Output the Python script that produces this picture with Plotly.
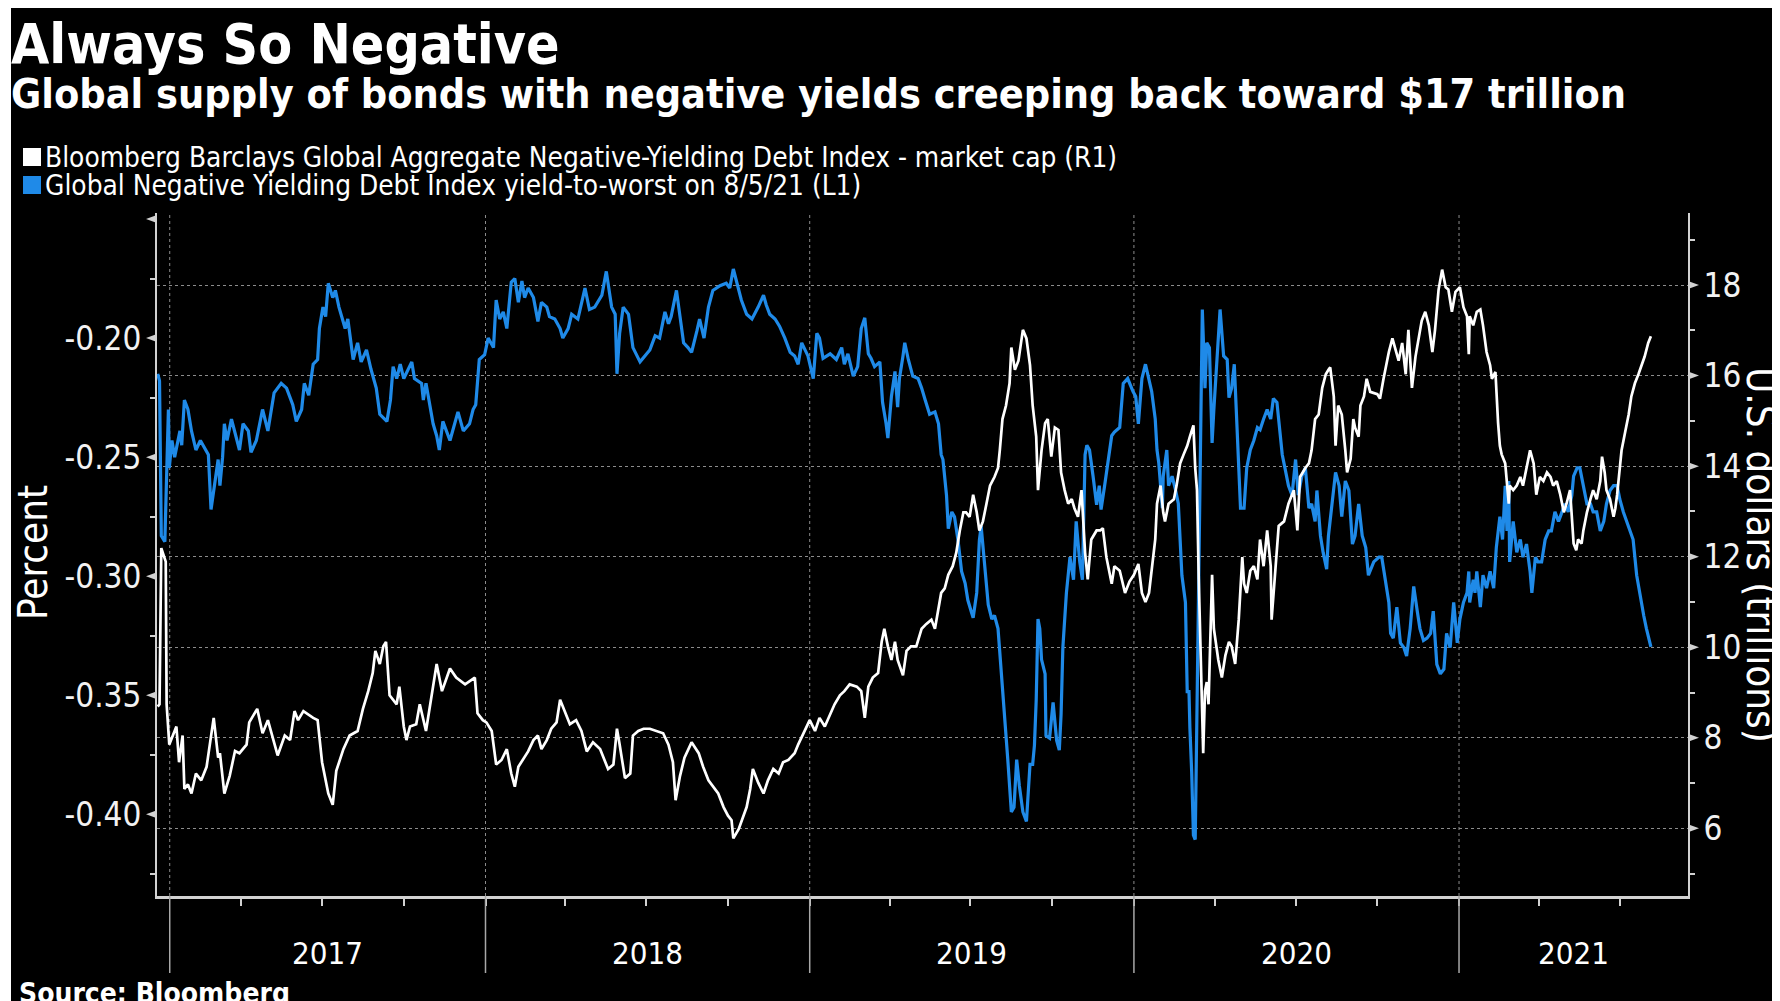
import pandas as pd
import plotly.graph_objects as go

# ---------------- data ----------------
# Market cap of negative-yielding debt, US$ trillions (right axis). x = day offset within year
cap_2017_days = [-4, -2, 0, 3, 5, 6, 9, 13, 17, 20, 24, 26, 30, 34, 39, 45, 51, 59, 64, 66, 71, 77, 83, 88, 96, 99, 108, 114, 120, 131, 139, 145, 150, 154, 160, 171, 176, 181, 188, 193, 197, 205, 212, 221, 227, 233, 238, 241, 246, 250, 253, 257, 265, 268, 273, 276, 280, 287, 291, 298, 304, 310, 316, 325, 332, 342, 353, 356, 362]
cap_2017 = [8.69, 8.74, 12.19, 11.99, 11.89, 8.74, 7.85, 8.05, 8.25, 7.46, 8.05, 6.87, 6.97, 6.77, 7.21, 7.06, 7.36, 8.44, 7.56, 7.66, 6.77, 7.16, 7.71, 7.66, 7.85, 8.34, 8.64, 8.10, 8.39, 7.61, 8.05, 7.95, 8.59, 8.39, 8.59, 8.44, 8.39, 7.46, 6.77, 6.52, 7.27, 7.75, 8.05, 8.15, 8.64, 9.03, 9.43, 9.92, 9.63, 10.02, 10.12, 8.94, 8.74, 9.13, 8.25, 7.95, 8.25, 8.30, 8.74, 8.15, 8.94, 9.63, 9.03, 9.53, 9.33, 9.18, 9.33, 8.54, 8.39]
cap_2018_days = [1, 7, 12, 18, 24, 29, 33, 37, 42, 48, 54, 59, 63, 69, 74, 80, 84, 89, 95, 102, 108, 114, 121, 129, 134, 138, 144, 148, 151, 157, 163, 166, 172, 178, 185, 193, 200, 206, 211, 214, 219, 224, 232, 240, 245, 251, 256, 262, 268, 273, 277, 279, 285, 290, 294, 298, 301, 307, 313, 318, 324, 330, 335, 341, 348, 352, 358, 363]
cap_2018 = [8.34, 8.15, 7.41, 7.51, 7.75, 7.21, 6.92, 7.36, 7.51, 7.70, 7.95, 8.05, 7.75, 7.95, 8.20, 8.34, 8.84, 8.59, 8.30, 8.39, 8.15, 7.70, 7.90, 7.75, 7.51, 7.31, 7.41, 8.20, 7.85, 7.11, 7.21, 8.05, 8.15, 8.20, 8.20, 8.15, 8.10, 7.85, 7.46, 6.62, 7.16, 7.56, 7.90, 7.66, 7.36, 7.06, 6.92, 6.77, 6.47, 6.28, 6.18, 5.78, 5.98, 6.28, 6.47, 6.87, 7.31, 7.01, 6.77, 7.06, 7.31, 7.21, 7.46, 7.51, 7.66, 7.85, 8.10, 8.34]
cap_2019_days = [0, 6, 11, 17, 23, 28, 34, 39, 45, 53, 58, 62, 66, 71, 77, 81, 84, 88, 92, 96, 99, 105, 109, 114, 120, 126, 131, 137, 141, 145, 148, 152, 156, 161, 165, 169, 173, 176, 180, 184, 188, 191, 195, 199, 203, 208, 212, 214, 217, 221, 225, 227, 231, 235, 240, 244, 248, 251, 255, 257, 261, 265, 268, 272, 276, 280, 283, 287, 291, 295, 298, 302, 306, 310, 313, 317, 323, 327, 330, 334, 340, 343, 349, 355, 360]
cap_2019 = [8.39, 8.15, 8.44, 8.25, 8.54, 8.74, 8.94, 9.03, 9.18, 9.13, 9.03, 8.44, 9.13, 9.33, 9.43, 10.12, 10.41, 10.02, 9.72, 10.12, 9.72, 9.38, 9.92, 10.02, 10.02, 10.41, 10.51, 10.61, 10.41, 10.91, 11.20, 11.30, 11.60, 11.79, 12.09, 12.58, 12.98, 12.98, 12.88, 13.37, 12.98, 12.58, 12.78, 13.17, 13.57, 13.76, 13.96, 14.35, 15.04, 15.34, 15.83, 16.62, 16.13, 16.33, 17.01, 16.82, 16.23, 15.34, 14.65, 13.47, 14.35, 14.95, 15.04, 14.21, 14.85, 14.80, 13.86, 13.47, 13.17, 13.27, 13.07, 12.88, 13.47, 12.09, 11.50, 12.38, 12.58, 12.58, 12.63, 11.99, 11.40, 11.79, 11.69, 11.20, 11.45]
cap_2020_days = [0, 5, 9, 13, 17, 20, 24, 26, 30, 33, 35, 39, 45, 48, 52, 56, 60, 63, 67, 69, 71, 73, 75, 77, 78, 80, 82, 84, 86, 88, 90, 92, 95, 99, 103, 107, 110, 114, 118, 122, 124, 127, 131, 135, 139, 142, 146, 150, 154, 155, 159, 163, 169, 174, 180, 184, 187, 193, 197, 200, 204, 208, 212, 216, 219, 221, 225, 227, 230, 234, 238, 240, 244, 247, 249, 253, 255, 259, 262, 266, 274, 277, 281, 287, 291, 294, 298, 302, 306, 309, 313, 317, 321, 324, 328, 332, 336, 339, 343, 347, 351, 354, 358, 362]
cap_2020 = [11.60, 11.84, 11.20, 11.00, 11.20, 11.69, 12.38, 13.17, 13.57, 12.98, 12.78, 13.17, 13.27, 13.57, 14.06, 14.26, 14.45, 14.65, 14.90, 13.96, 13.47, 11.50, 10.02, 8.54, 7.66, 9.03, 9.23, 8.74, 10.32, 11.60, 10.41, 10.12, 9.72, 9.33, 9.82, 10.12, 10.02, 9.63, 10.61, 11.99, 11.40, 11.20, 11.69, 11.79, 11.50, 12.38, 11.79, 12.58, 11.79, 10.61, 11.60, 12.68, 12.78, 13.17, 13.47, 12.58, 13.76, 13.96, 14.06, 14.35, 15.04, 15.14, 15.73, 16.03, 16.13, 16.18, 15.54, 14.45, 15.34, 15.14, 14.35, 13.86, 14.16, 15.04, 14.85, 14.65, 15.34, 15.54, 15.93, 15.64, 15.59, 15.49, 15.93, 16.52, 16.82, 16.62, 16.33, 16.72, 16.03, 17.01, 15.73, 16.42, 16.92, 17.21, 17.41, 17.11, 16.52, 17.01, 17.90, 18.34, 17.95, 17.90, 17.41, 17.85]
cap_2021_days = [1, 5, 9, 11, 12, 16, 20, 24, 27, 31, 35, 37, 41, 42, 44, 46, 48, 52, 54, 56, 57, 61, 65, 69, 72, 76, 80, 84, 87, 91, 95, 99, 103, 106, 110, 114, 118, 121, 125, 129, 132, 134, 138, 140, 144, 148, 151, 155, 159, 161, 163, 164, 166, 170, 174, 176, 178, 181, 183, 187, 191, 194, 198, 202, 206, 209, 213, 216]
cap_2021 = [17.95, 17.51, 17.31, 16.47, 17.31, 17.11, 17.41, 17.46, 17.11, 16.52, 16.23, 15.93, 16.08, 15.64, 14.95, 14.45, 14.26, 14.06, 13.57, 13.17, 13.57, 13.47, 13.57, 13.76, 13.57, 13.96, 14.35, 14.06, 13.37, 13.76, 13.67, 13.86, 13.76, 13.57, 13.67, 13.37, 12.98, 13.17, 13.47, 12.29, 12.14, 12.38, 12.29, 12.58, 12.98, 13.27, 13.47, 13.27, 13.67, 14.21, 13.96, 13.86, 13.47, 13.27, 12.88, 13.07, 13.37, 13.96, 14.35, 14.75, 15.14, 15.54, 15.83, 16.03, 16.23, 16.42, 16.72, 16.87]

# Yield-to-worst, percent (left axis). x = day offset within year
ytw_2017_days = [-4, -2, 0, 4, 8, 9, 12, 15, 21, 23, 26, 30, 34, 39, 44, 53, 56, 60, 64, 66, 69, 71, 74, 79, 88, 92, 98, 101, 107, 114, 120, 127, 135, 141, 148, 152, 158, 161, 166, 171, 176, 178, 182, 185, 188, 193, 196, 200, 204, 207, 210, 214, 216, 221, 225, 231, 236, 242, 246, 254, 258, 261, 265, 269, 273, 282, 285, 293, 295, 298, 302, 306, 310, 313, 317, 325, 334, 340, 347, 351, 354, 358, 364]
ytw_2017 = [-0.215, -0.218, -0.283, -0.2855, -0.230, -0.2545, -0.243, -0.250, -0.239, -0.245, -0.226, -0.230, -0.239, -0.247, -0.243, -0.249, -0.272, -0.262, -0.251, -0.262, -0.250, -0.236, -0.243, -0.234, -0.247, -0.236, -0.239, -0.248, -0.243, -0.230, -0.239, -0.223, -0.219, -0.221, -0.228, -0.235, -0.230, -0.219, -0.224, -0.211, -0.209, -0.196, -0.187, -0.191, -0.177, -0.183, -0.180, -0.187, -0.192, -0.196, -0.192, -0.204, -0.209, -0.202, -0.210, -0.205, -0.213, -0.221, -0.232, -0.235, -0.226, -0.212, -0.217, -0.211, -0.217, -0.210, -0.217, -0.219, -0.226, -0.219, -0.228, -0.236, -0.241, -0.247, -0.235, -0.243, -0.231, -0.239, -0.236, -0.230, -0.228, -0.209, -0.207]
ytw_2018_days = [3, 9, 12, 16, 20, 24, 29, 33, 37, 41, 44, 48, 54, 59, 63, 69, 72, 78, 84, 87, 93, 97, 104, 112, 117, 123, 131, 136, 142, 146, 148, 151, 155, 161, 166, 174, 179, 185, 191, 196, 202, 206, 209, 215, 219, 223, 228, 232, 238, 241, 246, 251, 256, 264, 271, 275, 279, 283, 288, 294, 300, 307, 313, 316, 320, 326, 331, 337, 343, 348, 352, 356, 361]
ytw_2018 = [-0.200, -0.204, -0.184, -0.192, -0.189, -0.196, -0.1765, -0.175, -0.185, -0.176, -0.183, -0.179, -0.183, -0.193, -0.185, -0.187, -0.191, -0.192, -0.196, -0.200, -0.196, -0.190, -0.192, -0.179, -0.188, -0.187, -0.182, -0.172, -0.187, -0.190, -0.215, -0.198, -0.187, -0.190, -0.204, -0.210, -0.2075, -0.205, -0.199, -0.200, -0.189, -0.194, -0.191, -0.180, -0.191, -0.202, -0.204, -0.206, -0.197, -0.192, -0.200, -0.187, -0.180, -0.178, -0.177, -0.179, -0.171, -0.1765, -0.184, -0.190, -0.192, -0.187, -0.182, -0.186, -0.190, -0.192, -0.195, -0.200, -0.206, -0.2075, -0.211, -0.202, -0.206]
ytw_2019_days = [-2, 4, 8, 11, 15, 23, 30, 36, 39, 43, 49, 54, 58, 62, 66, 69, 73, 79, 82, 86, 88, 92, 96, 99, 101, 105, 107, 111, 116, 122, 126, 130, 135, 141, 145, 148, 150, 154, 156, 160, 163, 167, 171, 175, 178, 182, 184, 188, 191, 193, 197, 201, 205, 208, 212, 216, 220, 223, 227, 230, 233, 236, 240, 244, 248, 251, 253, 255, 257, 259, 261, 265, 266, 270, 274, 278, 281, 283, 285, 289, 293, 297, 300, 304, 307, 310, 312, 315, 319, 323, 326, 328, 332, 336, 340, 343, 349, 353, 358, 364]
ytw_2019 = [-0.2075, -0.217, -0.198, -0.200, -0.2085, -0.2066, -0.209, -0.204, -0.211, -0.2066, -0.216, -0.212, -0.196, -0.1915, -0.2066, -0.2085, -0.212, -0.210, -0.227, -0.236, -0.242, -0.2245, -0.214, -0.229, -0.217, -0.2075, -0.202, -0.209, -0.216, -0.217, -0.221, -0.226, -0.232, -0.231, -0.236, -0.249, -0.251, -0.266, -0.280, -0.273, -0.275, -0.285, -0.298, -0.303, -0.310, -0.315, -0.3175, -0.307, -0.285, -0.279, -0.296, -0.312, -0.318, -0.3165, -0.322, -0.341, -0.360, -0.377, -0.399, -0.397, -0.377, -0.388, -0.399, -0.403, -0.379, -0.379, -0.371, -0.352, -0.318, -0.322, -0.335, -0.341, -0.367, -0.368, -0.353, -0.369, -0.373, -0.358, -0.330, -0.307, -0.292, -0.3015, -0.277, -0.294, -0.3015, -0.249, -0.245, -0.247, -0.258, -0.270, -0.262, -0.272, -0.262, -0.251, -0.241, -0.2395, -0.2375, -0.219, -0.217, -0.2225]
ytw_2020_days = [2, 5, 9, 13, 17, 20, 24, 26, 28, 32, 33, 37, 39, 43, 47, 50, 54, 58, 60, 62, 63, 65, 67, 69, 70, 72, 74, 75, 77, 80, 82, 85, 88, 90, 93, 97, 101, 105, 107, 110, 113, 116, 120, 124, 127, 131, 135, 139, 142, 146, 150, 154, 157, 161, 163, 167, 170, 174, 178, 182, 185, 189, 193, 197, 200, 204, 206, 210, 213, 217, 219, 223, 227, 231, 234, 238, 242, 246, 249, 253, 257, 261, 264, 270, 276, 279, 283, 287, 289, 292, 296, 300, 304, 307, 311, 315, 319, 322, 326, 330, 334, 337, 341, 345, 349, 352, 356, 360, 364]
ytw_2020 = [-0.2245, -0.236, -0.217, -0.211, -0.218, -0.2225, -0.234, -0.247, -0.2525, -0.2714, -0.258, -0.247, -0.262, -0.258, -0.264, -0.2696, -0.2996, -0.311, -0.3485, -0.3485, -0.3636, -0.382, -0.4087, -0.4106, -0.384, -0.330, -0.292, -0.245, -0.188, -0.221, -0.202, -0.204, -0.244, -0.230, -0.213, -0.188, -0.2075, -0.209, -0.225, -0.221, -0.211, -0.237, -0.2714, -0.2714, -0.2545, -0.247, -0.243, -0.2376, -0.2385, -0.234, -0.230, -0.234, -0.2254, -0.227, -0.235, -0.249, -0.2545, -0.262, -0.266, -0.251, -0.266, -0.258, -0.2545, -0.2714, -0.2696, -0.277, -0.264, -0.283, -0.290, -0.297, -0.283, -0.2696, -0.2564, -0.262, -0.275, -0.260, -0.264, -0.2865, -0.283, -0.2696, -0.283, -0.288, -0.2996, -0.294, -0.292, -0.292, -0.3015, -0.311, -0.324, -0.326, -0.313, -0.328, -0.330, -0.3335, -0.322, -0.3043, -0.3147, -0.322, -0.327, -0.326, -0.324, -0.3147, -0.337, -0.341, -0.339, -0.324, -0.330, -0.311, -0.328]
ytw_2021_days = [1, 5, 9, 11, 12, 16, 18, 20, 24, 27, 31, 35, 39, 42, 46, 49, 52, 54, 56, 57, 61, 65, 69, 72, 76, 80, 82, 86, 89, 93, 97, 101, 104, 108, 112, 116, 119, 123, 127, 129, 133, 136, 140, 144, 148, 151, 155, 159, 163, 166, 170, 174, 178, 181, 185, 189, 193, 196, 200, 204, 208, 211, 216]
ytw_2021 = [-0.318, -0.311, -0.307, -0.298, -0.311, -0.3015, -0.307, -0.298, -0.313, -0.2996, -0.305, -0.298, -0.305, -0.288, -0.275, -0.2846, -0.262, -0.281, -0.260, -0.294, -0.277, -0.290, -0.2846, -0.292, -0.2865, -0.298, -0.307, -0.292, -0.294, -0.294, -0.2846, -0.281, -0.281, -0.273, -0.277, -0.273, -0.2696, -0.273, -0.266, -0.258, -0.2545, -0.2545, -0.262, -0.2696, -0.2696, -0.273, -0.273, -0.281, -0.277, -0.2696, -0.264, -0.262, -0.262, -0.2677, -0.273, -0.277, -0.281, -0.2846, -0.2996, -0.309, -0.3166, -0.322, -0.3297]

years = [2017, 2018, 2019, 2020, 2021]
year_labels = ["2017", "2018", "2019", "2020", "2021"]
left_ticks = [-0.40, -0.35, -0.30, -0.25, -0.20, -0.15]
left_ticktext = ["-0.40", "-0.35", "-0.30", "-0.25", "-0.20", ""]
left_minor = [-0.425, -0.375, -0.325, -0.275, -0.225, -0.175]
right_ticks = [6, 8, 10, 12, 14, 16, 18]
right_minor = [5, 7, 9, 11, 13, 15, 17, 19]
separator_dates = ["2017-01-10 12:00", "2018-01-01", "2019-01-01", "2020-01-01", "2021-01-01"]
quarter_ticks = [f"{y}-{m:02d}-01" for y in years for m in (1, 4, 7, 10)
                 if "2017-01" < f"{y}-{m:02d}" <= "2021-07"]
x_range = ["2016-12-27 04:00", "2021-09-15 19:00"]

TITLE = "Always So Negative"
SUBTITLE = "Global supply of bonds with negative yields creeping back toward $17 trillion"
LEG1 = "Bloomberg Barclays Global Aggregate Negative-Yielding Debt Index - market cap (R1)"
LEG2 = "Global Negative Yielding Debt Index yield-to-worst on 8/5/21 (L1)"
SOURCE = "Source: Bloomberg"

# ---------------- build ----------------
def to_dates(year, days):
    base = pd.Timestamp(f"{year}-01-01")
    return [base + pd.Timedelta(days=d) for d in days]

cap_x = (to_dates(2017, cap_2017_days) + to_dates(2018, cap_2018_days) + to_dates(2019, cap_2019_days)
         + to_dates(2020, cap_2020_days) + to_dates(2021, cap_2021_days))
cap_y = cap_2017 + cap_2018 + cap_2019 + cap_2020 + cap_2021
ytw_x = (to_dates(2017, ytw_2017_days) + to_dates(2018, ytw_2018_days) + to_dates(2019, ytw_2019_days)
         + to_dates(2020, ytw_2020_days) + to_dates(2021, ytw_2021_days))
ytw_y = ytw_2017 + ytw_2018 + ytw_2019 + ytw_2020 + ytw_2021

# page is 1780x1001; the html body adds an 8px margin, so the figure is 8px smaller
OFF = 8
W, H = 1780 - OFF, 1001 - OFF
# plot area in page pixels
PL, PR, PT, PB = 157, 1688, 213, 896

def px_x(px):
    return (px - PL) / (PR - PL)

def px_y(py):
    return (PB - py) / (PB - PT)

WHITE = "#ffffff"
BLUE = "#1f8ae8"
AXIS = "#d2d2d2"
GRID = "#8c8c8c"
FONT = "DejaVu Sans Condensed, DejaVu Sans, sans-serif"

fig = go.Figure()
fig.add_trace(go.Scatter(x=cap_x, y=cap_y, mode="lines", line=dict(color=WHITE, width=2.7),
                         yaxis="y2", name=LEG1, showlegend=False))
fig.add_trace(go.Scatter(x=ytw_x, y=ytw_y, mode="lines", line=dict(color=BLUE, width=3.2),
                         yaxis="y", name=LEG2, showlegend=False))

shapes = []
# thin white page border on the left, as in the reference
shapes.append(dict(type="rect", xref="paper", yref="paper", x0=px_x(OFF), x1=px_x(11),
                   y0=px_y(1001), y1=px_y(OFF), fillcolor="white", line=dict(width=0)))
# year separators: dotted inside plot, solid below axis
for d in separator_dates:
    shapes.append(dict(type="line", xref="x", yref="paper", x0=d, x1=d, y0=0, y1=1,
                       line=dict(color=GRID, width=1, dash="dot"), layer="below"))
    shapes.append(dict(type="line", xref="x", yref="paper", x0=d, x1=d, y0=0, y1=px_y(973),
                       line=dict(color="#a8a8a8", width=1.5)))
# triangle major ticks
tw = 11 / (PR - PL)
for v in left_ticks:
    dy = 4 * 0.2 / 476
    shapes.append(dict(type="path", xref="paper", yref="y",
                       path=f"M {-tw},{v} L 0,{v + dy} L 0,{v - dy} Z",
                       fillcolor=AXIS, line=dict(width=0)))
for v in right_ticks:
    dy = 4 * 2 / 90.5
    shapes.append(dict(type="path", xref="paper", yref="y2",
                       path=f"M {1 + tw},{v} L 1,{v + dy} L 1,{v - dy} Z",
                       fillcolor=AXIS, line=dict(width=0)))
# legend swatches
shapes.append(dict(type="rect", xref="paper", yref="paper", x0=px_x(23), x1=px_x(41),
                   y0=px_y(166), y1=px_y(148), fillcolor=WHITE, line=dict(width=0)))
shapes.append(dict(type="rect", xref="paper", yref="paper", x0=px_x(23), x1=px_x(41),
                   y0=px_y(194), y1=px_y(176), fillcolor=BLUE, line=dict(width=0)))

ann = []
ann.append(dict(text=f"<b>{TITLE}</b>", xref="paper", yref="paper", x=px_x(9), y=px_y(44),
                xanchor="left", yanchor="middle", showarrow=False,
                font=dict(family=FONT, size=55, color=WHITE)))
ann.append(dict(text=f"<b>{SUBTITLE}</b>", xref="paper", yref="paper", x=px_x(9), y=px_y(94),
                xanchor="left", yanchor="middle", showarrow=False,
                font=dict(family=FONT, size=41, color=WHITE)))
ann.append(dict(text=LEG1, xref="paper", yref="paper", x=px_x(43), y=px_y(157),
                xanchor="left", yanchor="middle", showarrow=False,
                font=dict(family=FONT, size=27.8, color=WHITE)))
ann.append(dict(text=LEG2, xref="paper", yref="paper", x=px_x(43), y=px_y(185),
                xanchor="left", yanchor="middle", showarrow=False,
                font=dict(family=FONT, size=27.8, color=WHITE)))
ann.append(dict(text="Percent", xref="paper", yref="paper", x=px_x(33), y=px_y(553),
                xanchor="center", yanchor="middle", textangle=-90, showarrow=False,
                font=dict(family=FONT, size=40, color=WHITE)))
ann.append(dict(text="U.S. dollars (trillions)", xref="paper", yref="paper", x=px_x(1761), y=px_y(555),
                xanchor="center", yanchor="middle", textangle=90, showarrow=False,
                font=dict(family=FONT, size=40, color=WHITE)))
ann.append(dict(text=f"<b>{SOURCE}</b>", xref="paper", yref="paper", x=px_x(17), y=px_y(993),
                xanchor="left", yanchor="middle", showarrow=False,
                font=dict(family=FONT, size=28, color=WHITE)))
# year labels centred between separators (last one up to the axis end)
bounds = [pd.Timestamp(d) for d in separator_dates] + [pd.Timestamp(x_range[1])]
for i, lab in enumerate(year_labels):
    mid = bounds[i] + (bounds[i + 1] - bounds[i]) / 2
    ann.append(dict(text=lab, xref="x", yref="paper", x=mid, y=px_y(953),
                    xanchor="center", yanchor="middle", showarrow=False,
                    font=dict(family=FONT, size=31, color=WHITE)))

fig.update_layout(
    width=W, height=H,
    margin=dict(l=PL - OFF, r=1780 - PR, t=PT - OFF, b=1001 - PB, pad=0),
    paper_bgcolor="black", plot_bgcolor="black",
    showlegend=False,
    shapes=shapes, annotations=ann,
    xaxis=dict(type="date", range=x_range, showgrid=False, zeroline=False,
               showline=True, linecolor=AXIS, linewidth=2.5,
               tickvals=quarter_ticks, ticks="outside", ticklen=7, tickwidth=1.5, tickcolor=AXIS,
               showticklabels=False),
    yaxis=dict(range=[-0.43429, -0.14748], showgrid=False, zeroline=False,
               showline=True, linecolor=AXIS, linewidth=2,
               tickvals=left_ticks, ticktext=left_ticktext, ticks="outside", ticklen=7,
               tickcolor="rgba(0,0,0,0)", tickfont=dict(family=FONT, size=33, color="#f2f2f2"),
               minor=dict(tickvals=left_minor, ticks="outside", ticklen=5, tickwidth=1.5, tickcolor=AXIS)),
    yaxis2=dict(range=[4.506, 19.591], overlaying="y", side="right", zeroline=False,
                showgrid=True, gridcolor=GRID, gridwidth=1, griddash="dot",
                showline=True, linecolor=AXIS, linewidth=2,
                tickvals=right_ticks, ticks="outside", ticklen=7,
                tickcolor="rgba(0,0,0,0)", tickfont=dict(family=FONT, size=33, color="#f2f2f2"),
                minor=dict(tickvals=right_minor, ticks="outside", ticklen=5, tickwidth=1.5, tickcolor=AXIS)),
)

fig.write_html("out.html")
